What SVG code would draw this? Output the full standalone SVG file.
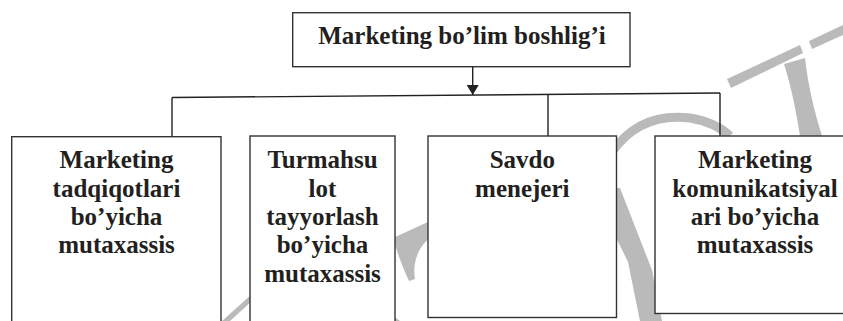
<svg xmlns="http://www.w3.org/2000/svg" width="843" height="321" viewBox="0 0 843 321">
<defs>
<style>
.box{fill:#ffffff;stroke:#333333;stroke-width:1.4}
.lbl{font-family:'Liberation Serif','DejaVu Serif','Times New Roman',serif;font-weight:bold;font-size:25px;fill:#231f20;text-anchor:middle}
.con{fill:none;stroke:#222222;stroke-width:1.4}
.wm{fill:#bababa;stroke:none}
</style>
<marker id="arr" viewBox="0 0 10 12" refX="10" refY="6" markerWidth="10" markerHeight="12" markerUnits="userSpaceOnUse" orient="auto">
<path d="M0,0 L10,6 L0,12 Z" fill="#222222"/>
</marker>
</defs>
<rect width="843" height="321" fill="#ffffff"/>
<g id="watermark">
<polygon class="wm" points="222,321 230,321 252,301 252,294"/>
<path class="wm" d="M393,238 L430,221 L430,238 C419,246 412,262 415,279 L409,281 C402,266 397,252 393,238 Z"/>
<polygon class="wm" points="393,316 400,321 393,321"/>
<path d="M612,152 Q640,112 690,118 Q715,122 730,136" fill="none" stroke="#bababa" stroke-width="9"/>
<polygon class="wm" points="605,188 620,188 652,270 662,321 640,321 628,262 605,215"/>
<polygon class="wm" points="727,79 800,45 803,53 731,88"/>
<polygon class="wm" points="809,41 843,25 843,35 812,49"/>
<path class="wm" d="M784,64 L805,58 C808,85 814,110 822,136 L800,136 C796,110 791,86 784,64 Z"/>
</g>
<g id="connectors">
<line class="con" x1="472.7" y1="67" x2="472.7" y2="95" marker-end="url(#arr)"/>
<line class="con" x1="172" y1="97.5" x2="720" y2="93"/>
<line class="con" x1="172" y1="97.5" x2="172" y2="137"/>
<line class="con" x1="548" y1="95" x2="548" y2="137"/>
<line class="con" x1="720" y1="93" x2="720" y2="137"/>
</g>
<g font-family="'Liberation Serif','DejaVu Serif',serif" font-weight="bold">
<g id="head">
<rect class="box" x="292.7" y="12.7" width="337.3" height="54"/>
<text class="lbl" x="462" y="43.5">Marketing bo’lim boshlig’i</text>
</g>
<g id="n1">
<rect class="box" x="11.7" y="136.7" width="209.3" height="200"/>
<text class="lbl" x="116.5" y="168.3">Marketing</text>
<text class="lbl" x="116.5" y="196.7">tadqiqotlari</text>
<text class="lbl" x="116.5" y="225">bo’yicha</text>
<text class="lbl" x="116.5" y="253.3">mutaxassis</text>
</g>
<g id="n2">
<rect class="box" x="250" y="136" width="145" height="200"/>
<text class="lbl" x="322.5" y="168.3">Turmahsu</text>
<text class="lbl" x="322.5" y="196.7">lot</text>
<text class="lbl" x="322.5" y="225">tayyorlash</text>
<text class="lbl" x="322.5" y="253.3">bo’yicha</text>
<text class="lbl" x="322.5" y="281.7">mutaxassis</text>
</g>
<g id="n3">
<rect class="box" x="428" y="136" width="188.5" height="181.5"/>
<text class="lbl" x="522.3" y="168.3">Savdo</text>
<text class="lbl" x="522.3" y="196.7">menejeri</text>
</g>
<g id="n4">
<rect class="box" x="655" y="136" width="200" height="177.5"/>
<text class="lbl" x="755" y="168.3">Marketing</text>
<text class="lbl" x="755" y="196.7">komunikatsiyal</text>
<text class="lbl" x="755" y="225">ari bo’yicha</text>
<text class="lbl" x="755" y="253.3">mutaxassis</text>
</g>
</g>
</svg>
